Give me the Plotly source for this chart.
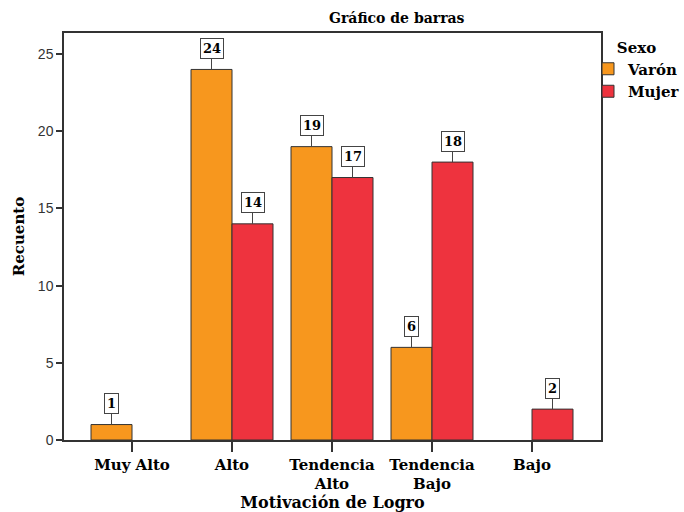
import plotly.graph_objects as go

categories = ["Muy Alto", "Alto", "Tendencia<br>Alto", "Tendencia<br>Bajo", "Bajo"]
varon = [1, 24, 19, 6, None]
mujer = [None, 14, 17, 18, 2]
series_names = ["Varón", "Mujer"]
y_ticks = [0, 5, 10, 15, 20, 25]

ORANGE = "#F7971E"
RED = "#EE333E"
SERIF = "DejaVu Serif"
SANS = "Liberation Sans"

fig = go.Figure()
for name, vals, col in [(series_names[0], varon, ORANGE), (series_names[1], mujer, RED)]:
    fig.add_trace(go.Bar(
        x=categories, y=vals, name="<b>%s</b>" % name,
        marker=dict(color=col, line=dict(color="#333333", width=1)),
    ))

bw = 0.41
for vals, off in [(varon, -bw / 2), (mujer, bw / 2)]:
    for i, v in enumerate(vals):
        if v is None:
            continue
        fig.add_annotation(
            x=i + off, y=v, xref="x", yref="y",
            text="<b>%d</b>" % v, showarrow=True, arrowhead=0, arrowwidth=1,
            arrowcolor="#444444", ax=0, ay=-21,
            font=dict(family=SERIF, size=13, color="black"),
            bgcolor="white", bordercolor="#444444", borderwidth=1, borderpad=2,
        )

fig.add_annotation(
    x=(397 - 64) / 537, y=1 + (33 - 18) / 407, xref="paper", yref="paper",
    text="<b>Gráfico de barras</b>", showarrow=False, yanchor="middle",
    font=dict(family=SERIF, size=14, color="black"),
)

fig.update_layout(
    width=684, height=512,
    margin=dict(l=64, r=83, t=33, b=72, autoexpand=False),
    paper_bgcolor="white", plot_bgcolor="white",
    barmode="group", bargap=0.18, bargroupgap=0,
    showlegend=True,
    legend=dict(
        x=(588 - 64) / 537, y=1.0, xanchor="left", yanchor="top",
        title=dict(text="<b>Sexo</b>", side="top center", font=dict(family=SERIF, size=15, color="black")),
        font=dict(family=SERIF, size=15, color="black"),
        tracegroupgap=0, itemwidth=30, bgcolor="rgba(0,0,0,0)",
    ),
    xaxis=dict(
        range=[-0.68, 4.69], showline=True, linecolor="#333333", linewidth=1.5, mirror=True,
        ticks="outside", ticklen=10, tickcolor="#333333", tickwidth=1.5,
        tickfont=dict(family=SERIF, size=15, color="black"),
        tickvals=categories, ticktext=["<b>%s</b>" % c for c in categories],
        title=dict(text="<b>Motivación de Logro</b>", font=dict(family=SERIF, size=16, color="black"), standoff=11),
        showgrid=False, automargin=False,
    ),
    yaxis=dict(
        range=[0, 26.36], showline=True, linecolor="#333333", linewidth=1.5, mirror=True,
        ticks="outside", ticklen=6, tickcolor="#333333", tickwidth=1.5,
        tickvals=y_ticks, tickfont=dict(family=SANS, size=14, color="#333333"),
        title=dict(text="<b>Recuento</b>", font=dict(family=SERIF, size=15, color="black"), standoff=10),
        showgrid=False, zeroline=False, automargin=False,
    ),
)

fig.write_html("out.html", config={"displayModeBar": False},
               post_script="document.body.style.margin='0';")
